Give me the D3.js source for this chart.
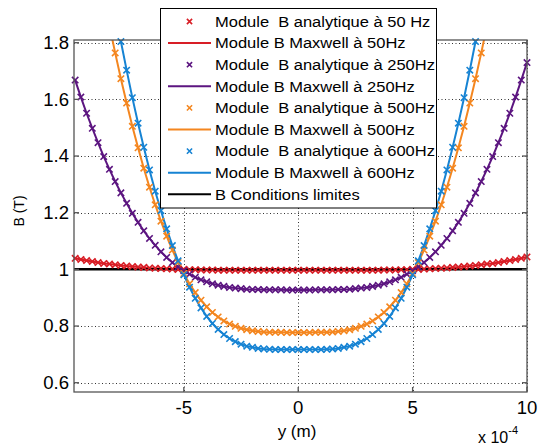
<!DOCTYPE html>
<html><head><meta charset="utf-8">
<script src="https://cdn.jsdelivr.net/npm/d3@7"></script>
<style>
html,body{margin:0;padding:0;background:#fff;}
svg{display:block;font-family:"Liberation Sans",Arial,sans-serif;}
</style></head><body>
<svg id="c" width="543" height="447"></svg>
<script>
// sample positions along y (units of 1e-4 m)
const yPos = d3.range(-9.75, 10.001, 0.25);

const b50 = [1.039,1.035,1.031,1.028,1.024,1.021,1.019,1.016,1.014,1.012,1.010,1.008,1.007,1.005,1.004,1.003,1.002,1.001,1.000,1.000,0.999,0.999,0.998,0.998,0.998,
0.997,0.997,0.997,0.997,0.997,0.997,0.997,0.997,0.997,0.997,0.997,0.997,0.997,0.997,0.997,0.997,0.997,0.997,0.997,0.997,0.997,0.997,0.997,0.997,0.997,0.997,0.997,0.997,0.997,
0.998,0.998,0.998,0.999,0.999,1.000,1.000,1.001,1.002,1.003,1.004,1.005,1.007,1.008,1.010,1.012,1.014,1.016,1.019,1.021,1.024,1.028,1.031,1.035,1.039,1.044];

const b250 = [1.668,1.608,1.551,1.498,1.447,1.398,1.353,1.310,1.270,1.233,1.198,1.166,1.136,1.109,1.085,1.062,1.042,1.024,1.009,0.995,0.983,0.972,0.963,0.956,0.949,0.944,0.940,0.936,0.934,0.932,0.930,0.929,0.929,0.928,0.928,0.928,0.928,0.927,0.927,
0.927,0.927,0.927,0.928,0.928,0.928,0.928,0.929,0.929,0.930,0.932,0.934,0.936,0.940,0.944,0.949,0.956,0.963,0.972,0.983,0.995,1.009,1.024,1.042,1.062,1.085,1.109,1.136,1.166,1.198,1.233,1.270,1.310,1.353,1.398,1.447,1.498,1.551,1.608,1.668,1.730];

const b500 = [2.549,2.420,2.297,2.180,2.068,1.961,1.860,1.764,1.673,1.587,1.505,1.429,1.357,1.290,1.228,1.170,1.117,1.068,1.024,0.985,0.949,0.918,0.891,0.868,0.848,0.832,0.818,0.807,0.799,0.792,0.787,0.783,0.781,0.779,0.778,0.778,0.778,0.777,0.777,
0.777,0.777,0.777,0.778,0.778,0.778,0.779,0.781,0.783,0.787,0.792,0.799,0.807,0.818,0.832,0.848,0.868,0.891,0.918,0.949,0.985,1.024,1.068,1.117,1.170,1.228,1.290,1.357,1.429,1.505,1.587,1.673,1.764,1.860,1.961,2.068,2.180,2.297,2.420,2.549,2.684];

const b600 = [2.845,2.690,2.544,2.404,2.271,2.145,2.026,1.912,1.804,1.703,1.606,1.516,1.431,1.351,1.276,1.207,1.143,1.084,1.030,0.981,0.937,0.898,0.864,0.834,0.809,0.788,0.770,0.756,0.745,0.736,0.729,0.725,0.721,0.719,0.718,0.717,0.717,0.717,0.717,
0.717,0.717,0.717,0.717,0.717,0.718,0.719,0.721,0.725,0.729,0.736,0.745,0.756,0.770,0.788,0.809,0.834,0.864,0.898,0.937,0.981,1.030,1.084,1.143,1.207,1.276,1.351,1.431,1.516,1.606,1.703,1.804,1.912,2.026,2.145,2.271,2.404,2.544,2.690,2.845,3.007];

const limitPos = [-9.8, 10];
const limitB = [1, 1];

const xTicks = [-5, 0, 5, 10];
const xTickLabels = ["-5", "0", "5", "10"];
const yTicks = [0.6, 0.8, 1, 1.2, 1.4, 1.6, 1.8];
const yTickLabels = ["0.6", "0.8", "1", "1.2", "1.4", "1.6", "1.8"];

const legendLabels = [
  "Module  B analytique à 50 Hz",
  "Module B Maxwell à 50Hz",
  "Module  B analytique à 250Hz",
  "Module B Maxwell à 250Hz",
  "Module  B analytique à 500Hz",
  "Module B Maxwell à 500Hz",
  "Module  B analytique à 600Hz",
  "Module B Maxwell à 600Hz",
  "B Conditions limites"
];
const colRed = "#d81e26", colPurple = "#5c1580", colOrange = "#f4861f", colBlue = "#1683d3", colBlack = "#000000";

const series = [
  {vals: b50, color: colRed, kind: "marker"},
  {vals: b50, color: colRed, kind: "line"},
  {vals: b250, color: colPurple, kind: "marker"},
  {vals: b250, color: colPurple, kind: "line"},
  {vals: b500, color: colOrange, kind: "marker"},
  {vals: b500, color: colOrange, kind: "line"},
  {vals: b600, color: colBlue, kind: "marker"},
  {vals: b600, color: colBlue, kind: "line"}
];

const L = 74, R = 527, T = 40, B = 392;
const x = d3.scaleLinear().domain([-9.8, 10]).range([L, R]);
const y = d3.scaleLinear().domain([0.5672, 1.8095]).range([B, T]);

const svg = d3.select("#c");
svg.append("rect").attr("width", 543).attr("height", 447).attr("fill", "#fff");
svg.append("defs").append("clipPath").attr("id", "clip")
  .append("rect").attr("x", L).attr("y", T).attr("width", R - L).attr("height", B - T);

// grid
const grid = svg.append("g").attr("stroke", "#333").attr("stroke-width", 1).attr("stroke-dasharray", "1,2.5");
grid.selectAll("line.gx").data(xTicks).join("line")
  .attr("x1", d => Math.round(x(d)) + 0.5).attr("x2", d => Math.round(x(d)) + 0.5)
  .attr("y1", T).attr("y2", B);
grid.selectAll("line.gy").data(yTicks).join("line")
  .attr("y1", d => Math.round(y(d)) + 0.5).attr("y2", d => Math.round(y(d)) + 0.5)
  .attr("x1", L).attr("x2", R);

const plot = svg.append("g").attr("clip-path", "url(#clip)");
const line = d3.line().x((d, i) => x(yPos[i])).y(d => y(d));
const xMark = "M-3.2,-3.2L3.2,3.2M-3.2,3.2L3.2,-3.2";

series.forEach(s => {
  if (s.kind === "line") {
    plot.append("path").datum(s.vals).attr("d", line)
      .attr("fill", "none").attr("stroke", s.color).attr("stroke-width", 2);
  } else {
    const pts = s.vals.map((v, i) => [yPos[i], v]).filter(p => p[1] <= y.domain()[1] && p[0] >= x.domain()[0]);
    svg.append("g").selectAll("path").data(pts).join("path")
      .attr("d", xMark)
      .attr("transform", p => `translate(${x(p[0])},${y(p[1])})`)
      .attr("fill", "none").attr("stroke", s.color).attr("stroke-width", 1.6);
  }
});
plot.append("path").datum(limitB)
  .attr("d", d3.line().x((d, i) => x(limitPos[i])).y(d => y(d)))
  .attr("fill", "none").attr("stroke", colBlack).attr("stroke-width", 2.5);

// axes (box with inward ticks)
const axisCol = "#555";
const tickLen = 5;
const axG = svg.append("g").attr("stroke", axisCol).attr("stroke-width", 1.3);
axG.append("rect").attr("x", L).attr("y", T).attr("width", R - L).attr("height", B - T).attr("fill", "none");
xTicks.forEach(t => {
  const px = x(t);
  axG.append("line").attr("x1", px).attr("x2", px).attr("y1", B).attr("y2", B - tickLen);
  axG.append("line").attr("x1", px).attr("x2", px).attr("y1", T).attr("y2", T + tickLen);
});
yTicks.forEach(t => {
  const py = y(t);
  axG.append("line").attr("y1", py).attr("y2", py).attr("x1", L).attr("x2", L + tickLen);
  axG.append("line").attr("y1", py).attr("y2", py).attr("x1", R).attr("x2", R - tickLen);
});

// tick labels
svg.append("g").selectAll("text").data(xTicks).join("text")
  .attr("transform", d => `translate(${x(d)},413.5) scale(1.06,1)`).attr("text-anchor", "middle")
  .attr("font-size", 17.5).attr("fill", "#000")
  .text((d, i) => xTickLabels[i]);
svg.append("g").selectAll("text").data(yTicks).join("text")
  .attr("transform", d => `translate(69,${y(d) + 6.2}) scale(1.06,1)`).attr("text-anchor", "end")
  .attr("font-size", 17.5).attr("fill", "#000")
  .text((d, i) => yTickLabels[i]);

// exponent
const ex = svg.append("text").attr("x", 478).attr("y", 443).attr("font-size", 16).attr("fill", "#000");
ex.append("tspan").text("x 10");
ex.append("tspan").attr("dy", -9).attr("font-size", 11).text("-4");

// axis labels
svg.append("text").attr("x", 297).attr("y", 437).attr("text-anchor", "middle")
  .attr("font-size", 17).attr("fill", "#000").text("y (m)");
svg.append("text").attr("transform", "translate(24,211) rotate(-90)").attr("text-anchor", "middle")
  .attr("font-size", 14).attr("fill", "#000").text("B (T)");

// legend
const lg = svg.append("g");
lg.append("rect").attr("x", 160.5).attr("y", 8.5).attr("width", 276).attr("height", 199.5)
  .attr("fill", "#fff").attr("stroke", "#000").attr("stroke-width", 1);
const legendColors = [colRed, colRed, colPurple, colPurple, colOrange, colOrange, colBlue, colBlue, colBlack];
legendLabels.forEach((lab, i) => {
  const cy = 21.5 + 21.6 * i;
  const isMarker = (i % 2 === 0) && i < 8;
  if (isMarker) {
    lg.append("path").attr("d", "M-2.6,-2.6L2.6,2.6M-2.6,2.6L2.6,-2.6")
      .attr("transform", `translate(189.5,${cy})`)
      .attr("fill", "none").attr("stroke", legendColors[i]).attr("stroke-width", 1.6);
  } else {
    lg.append("line").attr("x1", 168).attr("x2", 211).attr("y1", cy).attr("y2", cy)
      .attr("stroke", legendColors[i]).attr("stroke-width", 2);
  }
  lg.append("text").attr("transform", `translate(215,${cy + 5.2}) scale(1.1,1)`).attr("font-size", 15)
    .attr("fill", "#000").style("white-space", "pre").text(lab);
});
</script>
</body></html>
